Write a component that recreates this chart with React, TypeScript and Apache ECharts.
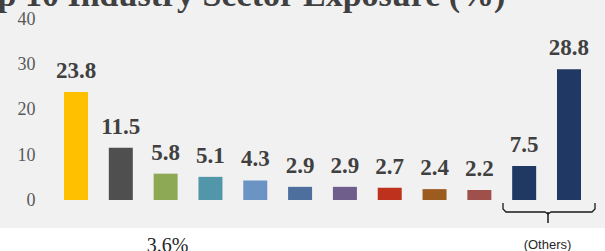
import React, { useEffect, useRef } from "react";
import * as echarts from "echarts";

const categories = [
  "Sector 1", "Sector 2", "Sector 3", "Sector 4", "Sector 5", "Sector 6",
  "Sector 7", "Sector 8", "Sector 9", "Sector 10", "Others A", "Others B",
];
const values = [23.8, 11.5, 5.8, 5.1, 4.3, 2.9, 2.9, 2.7, 2.4, 2.2, 7.5, 28.8];
const barColors = [
  "#FFC000", "#4F4F4F", "#8EA956", "#5296A9", "#6B93C4", "#4D6F9D",
  "#6F5E8B", "#BE311D", "#9C5B1F", "#A0504A", "#1F3864", "#1F3864",
];
const yTicks = [0, 10, 20, 30, 40];
const titleText = "Top 10 Industry Sector Exposure (%)";
const footLeft = "3.6%";
const footRight = "(Others)";

export default function App() {
  const ref = useRef<HTMLDivElement>(null);
  useEffect(() => {
    if (!ref.current) return;
    const chart = echarts.init(ref.current, null, { renderer: "svg" });
    chart.setOption({
      animation: false,
      backgroundColor: "#ffffff",
      grid: { left: 53.6, right: 13.6, top: 18.5, bottom: 51, containLabel: false },
      xAxis: {
        type: "category",
        data: categories,
        axisLine: { show: false },
        axisTick: { show: false },
        axisLabel: { show: false },
        splitLine: { show: false },
      },
      yAxis: {
        type: "value",
        min: yTicks[0],
        max: yTicks[yTicks.length - 1],
        interval: 10,
        axisLine: { show: false },
        axisTick: { show: false },
        splitLine: { show: false },
        axisLabel: {
          margin: 18,
          color: "#595959",
          fontFamily: "Liberation Serif",
          fontSize: 18,
        },
      },
      series: [
        {
          type: "bar",
          barWidth: 24,
          data: values.map((v, i) => ({ value: v, itemStyle: { color: barColors[i] } })),
          label: {
            show: true,
            position: "top",
            distance: 10,
            color: "#404040",
            fontFamily: "Liberation Serif",
            fontWeight: "bold",
            fontSize: 23,
            formatter: (p: any) => p.value.toFixed(1),
          },
        },
      ],
      graphic: [
        {
          type: "rect",
          silent: true,
          z: -10,
          shape: { x: 0, y: 0, width: 605, height: 228 },
          style: { fill: "#F1F1F1" },
        },
        {
          type: "text",
          x: -39,
          y: -5.5,
          style: {
            text: titleText,
            font: "bold 34px 'Liberation Serif'",
            fill: "#404040",
            textAlign: "left",
            textVerticalAlign: "middle",
          },
        },
        {
          type: "polyline",
          shape: {
            points: [
              [503, 203], [503, 209], [506, 212], [545, 212], [548, 214],
              [551, 212], [592, 212], [595, 209], [595, 203],
            ],
          },
          style: { stroke: "#1a1a1a", lineWidth: 1.3, fill: null },
        },
        {
          type: "line",
          shape: { x1: 548, y1: 212, x2: 548, y2: 223 },
          style: { stroke: "#1a1a1a", lineWidth: 1.5 },
        },
        {
          type: "text",
          x: 167.5,
          y: 244.5,
          style: {
            text: footLeft,
            font: "20px 'Liberation Serif'",
            fill: "#262626",
            textAlign: "center",
            textVerticalAlign: "middle",
          },
        },
        {
          type: "text",
          x: 547.5,
          y: 244,
          style: {
            text: footRight,
            font: "13px 'Liberation Sans'",
            fill: "#262626",
            textAlign: "center",
            textVerticalAlign: "middle",
          },
        },
      ],
    });
    return () => chart.dispose();
  }, []);
  return (
    <div
      ref={ref}
      style={{ position: "fixed", left: 0, top: 0, width: 605, height: 251 }}
    />
  );
}
